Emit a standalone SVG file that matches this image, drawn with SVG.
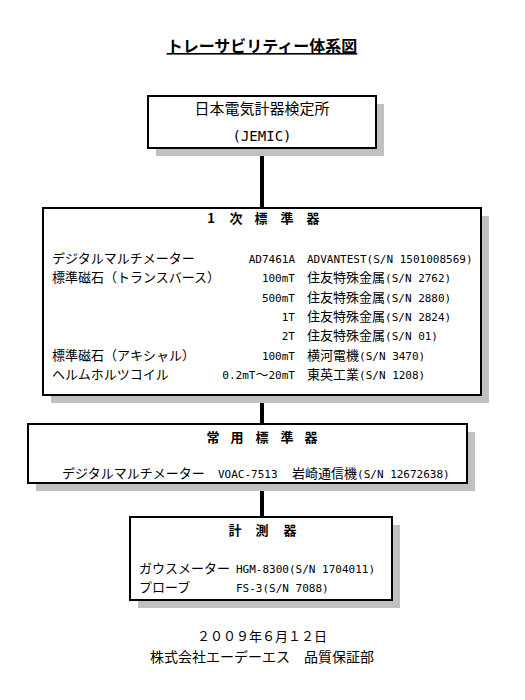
<svg xmlns="http://www.w3.org/2000/svg" width="525" height="700" viewBox="0 0 525 700">
<style>
.bg{fill:#ffffff}
.shadow{fill:#c0c0c0}
.box{fill:#ffffff;stroke:#000000;stroke-width:2}
.conn{stroke:#000000;stroke-width:4}
text{font-family:"Noto Sans CJK JP","Noto Sans",sans-serif;font-size:13px;fill:#000000}
.a{font-family:"DejaVu Sans Mono","Liberation Mono",monospace;font-size:11px}
.h{font-weight:bold}
.title{font-size:16px;font-weight:bold;text-decoration:underline}
.big{font-size:15px}
.mid{text-anchor:middle}
.end{text-anchor:end}
</style>
<rect class="bg" x="0" y="0" width="525" height="700"/>
<text class="title mid" x="262" y="52">トレーサビリティー体系図</text>

<g id="connectors">
<line class="conn" x1="262" y1="148" x2="262" y2="208"/>
<line class="conn" x1="262" y1="395" x2="262" y2="424"/>
<line class="conn" x1="262" y1="483" x2="262" y2="517"/>
</g>

<g id="jemic">
<rect class="shadow" x="156" y="104" width="228" height="52"/>
<rect class="box" x="148" y="96" width="228" height="52"/>
<text class="big mid" x="262" y="114">日本電気計器検定所</text>
<text class="mid a" style="font-size:14px" x="262" y="141">(JEMIC)</text>
</g>

<g id="primary">
<rect class="shadow" x="51" y="216" width="438" height="187"/>
<rect class="box" x="43" y="208" width="438" height="187"/>
<text class="h mid" x="211 236 261 287 313" y="223">1次標準器</text>
<text x="52" y="263">デジタルマルチメーター</text>
<text class="a end" x="295" y="263">AD7461A</text>
<text class="a" x="307" y="263">ADVANTEST(S/N 1501008569)</text>
<text x="52" y="282">標準磁石（トランスバース）</text>
<text class="a end" x="295" y="282">100mT</text>
<text x="307" y="282">住友特殊金属<tspan class="a">(S/N 2762)</tspan></text>
<text class="a end" x="295" y="302">500mT</text>
<text x="307" y="302">住友特殊金属<tspan class="a">(S/N 2880)</tspan></text>
<text class="a end" x="295" y="321">1T</text>
<text x="307" y="321">住友特殊金属<tspan class="a">(S/N 2824)</tspan></text>
<text class="a end" x="295" y="340">2T</text>
<text x="307" y="340">住友特殊金属<tspan class="a">(S/N 01)</tspan></text>
<text x="52" y="360">標準磁石（アキシャル）</text>
<text class="a end" x="295" y="360">100mT</text>
<text x="307" y="360">横河電機<tspan class="a">(S/N 3470)</tspan></text>
<text x="52" y="379">ヘルムホルツコイル</text>
<text class="end" x="295" y="379"><tspan class="a">0.2mT</tspan>～<tspan class="a">20mT</tspan></text>
<text x="307" y="379">東英工業<tspan class="a">(S/N 1208)</tspan></text>
</g>

<g id="working">
<rect class="shadow" x="36" y="432" width="439" height="59"/>
<rect class="box" x="28" y="424" width="439" height="59"/>
<text class="h mid" x="213 237 262 287 311" y="442">常用標準器</text>
<text x="62" y="478">デジタルマルチメーター</text>
<text class="a" x="218" y="478">VOAC-7513</text>
<text x="292" y="478">岩崎通信機<tspan class="a">(S/N 12672638)</tspan></text>
</g>

<g id="instruments">
<rect class="shadow" x="138" y="525" width="262" height="83"/>
<rect class="box" x="130" y="517" width="262" height="83"/>
<text class="h mid" x="235 262 290" y="535">計測器</text>
<text x="139" y="573">ガウスメーター</text>
<text class="a" x="236" y="573">HGM-8300(S/N 1704011)</text>
<text x="139" y="592">プローブ</text>
<text class="a" x="236" y="592">FS-3(S/N 7088)</text>
</g>

<g id="footer">
<text class="mid" x="262" y="641">２００９年６月１２日</text>
<text class="mid" style="font-size:14px" x="262" y="662">株式会社エーデーエス　品質保証部</text>
</g>
</svg>
